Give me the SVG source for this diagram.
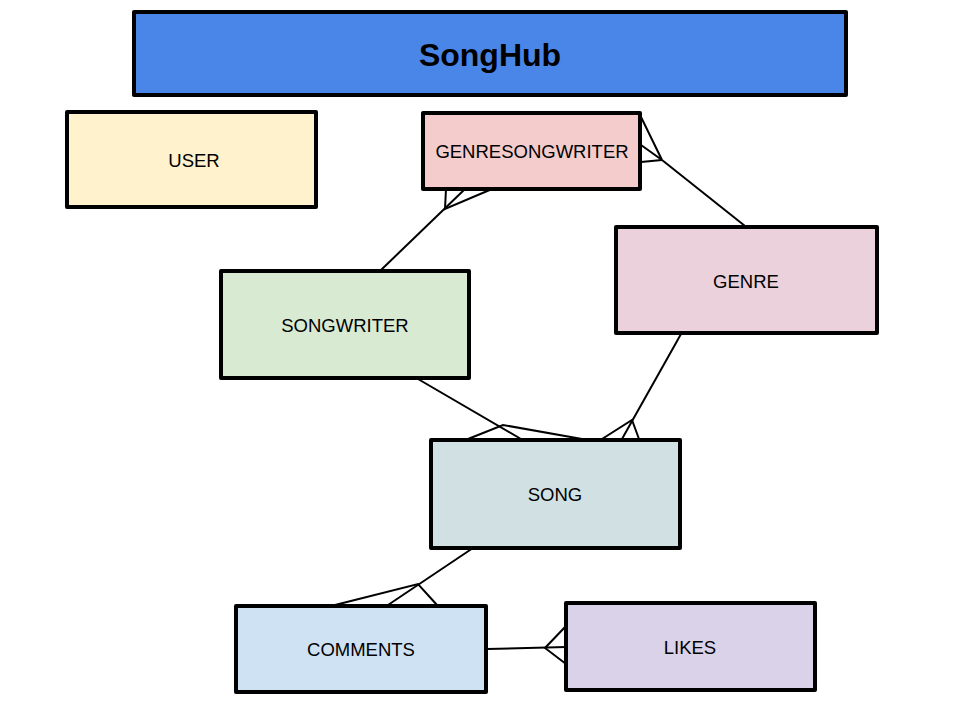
<svg xmlns="http://www.w3.org/2000/svg" width="960" height="720" viewBox="0 0 960 720">
<style>
.box{stroke:#000;stroke-width:4;stroke-linejoin:round}
.lbl{font-family:"Liberation Sans",Arial,sans-serif;font-size:18.5px;fill:#000;text-anchor:middle;dominant-baseline:central}
.title{font-family:"Liberation Sans",Arial,sans-serif;font-size:32px;font-weight:bold;fill:#000;text-anchor:middle;dominant-baseline:central}
.conn line,.conn polyline{stroke:#000;stroke-width:2;fill:none}
</style>
<rect width="960" height="720" fill="#fff"/>
<g id="title"><rect class="box" x="134" y="12" width="712" height="83" fill="#4a86e8"/><text class="title" x="490" y="55">SongHub</text></g>
<g id="user"><rect class="box" x="67" y="112" width="249" height="95" fill="#fff2cc"/><text class="lbl" x="194" y="160">USER</text></g>
<g id="genresongwriter"><rect class="box" x="423" y="113" width="217" height="76" fill="#f4cccc"/><text class="lbl" x="532" y="151">GENRESONGWRITER</text></g>
<g id="genre"><rect class="box" x="616" y="227" width="261" height="106" fill="#ead1dc"/><text class="lbl" x="746" y="281">GENRE</text></g>
<g id="songwriter"><rect class="box" x="221" y="271" width="248" height="107" fill="#d9ead3"/><text class="lbl" x="345" y="325">SONGWRITER</text></g>
<g id="song"><rect class="box" x="431" y="440" width="249" height="108" fill="#d0e0e3"/><text class="lbl" x="555" y="494">SONG</text></g>
<g id="comments"><rect class="box" x="236" y="606" width="250" height="86" fill="#cfe2f3"/><text class="lbl" x="361" y="649">COMMENTS</text></g>
<g id="likes"><rect class="box" x="566" y="603" width="249" height="87" fill="#d9d2e9"/><text class="lbl" x="690" y="647">LIKES</text></g>
<g class="conn" id="connectors">
<line x1="745" y1="226" x2="662" y2="160"/>
<polyline points="641,117 662,160 641,145"/>
<line x1="662" y1="160" x2="641" y2="162"/>
<line x1="381" y1="270" x2="465" y2="189"/>
<polyline points="446,189 445,209 492,189"/>
<line x1="418" y1="379" x2="521" y2="439"/>
<polyline points="468,439 503,425 582,439"/>
<line x1="681" y1="334" x2="622" y2="439"/>
<polyline points="602,439 632,420 639,439"/>
<line x1="473" y1="548" x2="388" y2="605"/>
<polyline points="335,605 418,584 437,605"/>
<line x1="487" y1="649" x2="566" y2="647"/>
<polyline points="566,626 545,648 566,664"/>
</g>
</svg>
